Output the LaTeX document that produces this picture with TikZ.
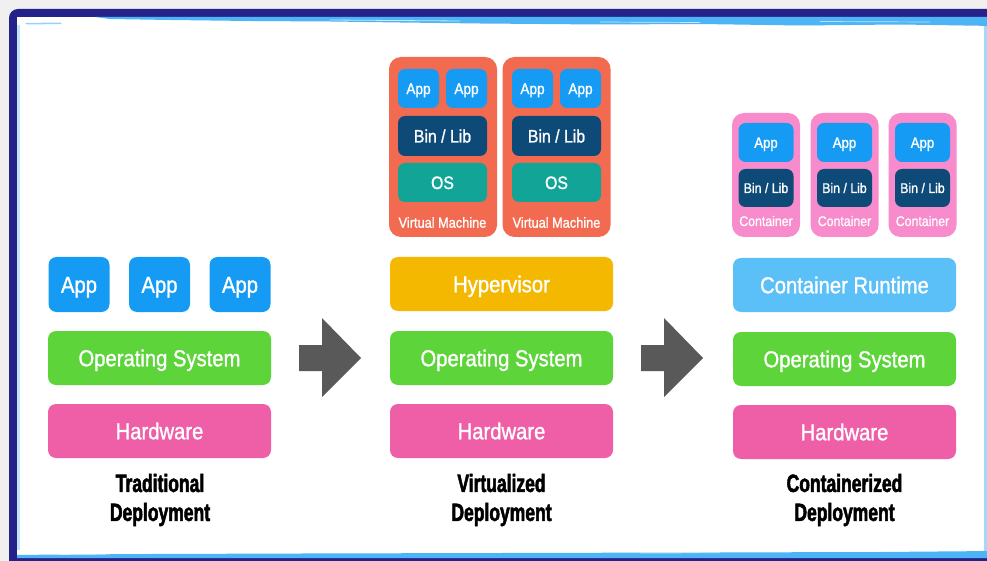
\documentclass[tikz,border=0pt]{standalone}
\usepackage{fontspec}
\setmainfont{Liberation Sans}[FakeStretch=0.88, FakeBold=1.2]
\newfontfamily\hd{Liberation Sans}[FakeStretch=0.7, FakeBold=2]
\definecolor{bggray}{HTML}{F0F0F0}
\definecolor{framenavy}{HTML}{25238A}
\definecolor{brush}{HTML}{4DB5F5}
\definecolor{appblue}{HTML}{169BF5}
\definecolor{osgreen}{HTML}{5CD43A}
\definecolor{hwpink}{HTML}{EE5FA7}
\definecolor{hypyellow}{HTML}{F5B800}
\definecolor{vmred}{HTML}{F26A50}
\definecolor{binnavy}{HTML}{0E4A78}
\definecolor{osteal}{HTML}{12A597}
\definecolor{ctpink}{HTML}{F78BCB}
\definecolor{rtblue}{HTML}{5BC0F8}
\definecolor{arrowgray}{HTML}{595959}
\begin{document}
\begin{tikzpicture}[x=1pt,y=-1pt,
  layer/.style={rounded corners=8, text=white, inner sep=0, minimum width=223, minimum height=54,
    text height=16.5pt, text depth=0pt, font=\fontsize{23}{26}\selectfont},
  bigapp/.style={layer, fill=appblue, minimum width=61, minimum height=55},
  vmbox/.style={rounded corners=12, fill=vmred, inner sep=0, minimum width=108, minimum height=180},
  ctbox/.style={rounded corners=12, fill=ctpink, inner sep=0, minimum width=68, minimum height=124},
  small/.style={rounded corners=7, text=white, inner sep=0, minimum height=39, text depth=0pt},
  vmlab/.style={text=white, inner sep=0, text height=10.4pt, text depth=0pt, font=\fontsize{14.5}{16}\selectfont},
  deplab/.style={inner sep=0, text=black, text height=17.9pt, text depth=0pt, font=\hd\bfseries\fontsize{25}{29}\selectfont},
  bigarrow/.style={fill=arrowgray}
]
\useasboundingbox (0,0) rectangle (987,561);
\fill[bggray] (0,0) rectangle (987,561);
\begin{scope}
\clip (0,0) rectangle (987,561);
\fill[framenavy, rounded corners=9] (9,9) rectangle (1010,590);
\fill[white] (17,17) rectangle (995,558);
% top brush stroke
\fill[brush] (95,17) -- (995,17) -- (995,26) -- (900,24.5) -- (800,25.5) -- (700,24) -- (600,24.5)
  -- (480,23.5) -- (400,22.5) -- (330,21.5) -- (250,21) -- (170,20) -- (110,19) -- cycle;
\fill[brush!60] (25,23) -- (60,22.5) -- (62,24) -- (27,24.5) -- cycle;
\draw[white, line width=0.8, opacity=0.7] (330,20) -- (460,21);
\draw[white, line width=0.7, opacity=0.7] (600,22) -- (700,22.5);
\draw[white, line width=0.7, opacity=0.6] (820,21.5) -- (930,22);
% bottom brush stroke
\fill[brush] (17,558) -- (995,558) -- (995,551) -- (880,552) -- (700,552.5) -- (500,553) -- (300,553.5) -- (150,554) -- (60,554.5) -- (17,555) -- cycle;
\draw[white, line width=0.7, opacity=0.7] (60,554.5) -- (110,554);
\draw[white, line width=0.7, opacity=0.6] (640,553) -- (720,552.8);
% side streaks
\fill[brush, opacity=0.35] (17,25) rectangle (20,550);
\fill[brush, opacity=0.5] (984,25) rectangle (987,552);
\end{scope}

% ---------- Traditional ----------
\node[bigapp] (tapp1) at (79,284.5) {App};
\node[bigapp] (tapp2) at (159.5,284.5) {App};
\node[bigapp] (tapp3) at (240,284.5) {App};
\node[layer, fill=osgreen] (tos) at (159.5,358) {Operating System};
\node[layer, fill=hwpink] (thw) at (159.5,431) {Hardware};
\node[deplab] (tlab1) at (160,483) {Traditional};
\node[deplab] (tlab2) at (160,512) {Deployment};

% ---------- Virtualized ----------
\node[vmbox] (vm1) at (443,147) {};
\node[vmbox] (vm2) at (556.5,147) {};
\foreach \n/\dx in {vm1/0, vm2/114}{
  \node[small, fill=appblue, minimum width=41, text height=11.3pt, font=\fontsize{15.5}{18}\selectfont] (\n app1) at (418.5+\dx,88.5) {App};
  \node[small, fill=appblue, minimum width=41, text height=11.3pt, font=\fontsize{15.5}{18}\selectfont] (\n app2) at (466.5+\dx,88.5) {App};
  \node[small, fill=binnavy, minimum width=89, minimum height=40, text height=13pt, font=\fontsize{18}{20}\selectfont] (\n bin) at (442.5+\dx,136) {Bin / Lib};
  \node[small, fill=osteal, minimum width=89, text height=13pt, font=\fontsize{18}{20}\selectfont] (\n os) at (442.5+\dx,182.5) {OS};
  \node[vmlab] (\n lab) at (442.5+\dx,222.5) {Virtual Machine};
}
\node[layer, fill=hypyellow] (vhyp) at (501.5,284) {Hypervisor};
\node[layer, fill=osgreen] (vos) at (501.5,358) {Operating System};
\node[layer, fill=hwpink] (vhw) at (501.5,431) {Hardware};
\node[deplab] (vlab1) at (501.5,483) {Virtualized};
\node[deplab] (vlab2) at (501.5,512) {Deployment};

% ---------- Containerized ----------
\foreach \n/\cx in {c1/766, c2/844.5, c3/922.5}{
  \node[ctbox] (\n) at (\cx,175) {};
  \node[small, fill=appblue, minimum width=55, text height=10.8pt, font=\fontsize{15}{17}\selectfont] (\n app) at (\cx,142.5) {App};
  \node[small, fill=binnavy, minimum width=55, minimum height=38, text height=10pt, font=\fontsize{14}{16}\selectfont] (\n bin) at (\cx,188) {Bin / Lib};
  \node[vmlab, text height=10pt, font=\fontsize{14}{16}\selectfont] (\n lab) at (\cx,221) {Container};
}
\node[layer, fill=rtblue] (crt) at (844.5,285) {Container Runtime};
\node[layer, fill=osgreen] (cos) at (844.5,359) {Operating System};
\node[layer, fill=hwpink] (chw) at (844.5,432) {Hardware};
\node[deplab] (clab1) at (844.5,483) {Containerized};
\node[deplab] (clab2) at (844.5,512) {Deployment};

% ---------- Arrows ----------
\foreach \dx in {0,342}{
  \fill[bigarrow] (299+\dx,345) -- (322+\dx,345) -- (322+\dx,318) -- (361+\dx,358)
    -- (322+\dx,397) -- (322+\dx,371) -- (299+\dx,371) -- cycle;
}
\end{tikzpicture}
\end{document}
